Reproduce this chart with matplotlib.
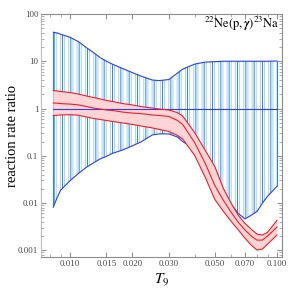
import numpy as np
import matplotlib
matplotlib.use('Agg')
import matplotlib.pyplot as plt
from matplotlib.ticker import FixedLocator, FixedFormatter, LogLocator, NullFormatter

plt.rcParams['font.family'] = ['Liberation Serif', 'DejaVu Serif']
plt.rcParams['mathtext.fontset'] = 'stix'
plt.rcParams['hatch.linewidth'] = 0.7

# temperature grid (T9)
t9 = [0.0083, 0.0087, 0.009, 0.010, 0.011, 0.012, 0.013, 0.014, 0.015, 0.016, 0.018,
      0.020, 0.022, 0.025, 0.027, 0.030, 0.033, 0.035, 0.040, 0.045, 0.050,
      0.055, 0.060, 0.065, 0.070, 0.075, 0.080, 0.085, 0.090, 0.100]

# blue band (ratio limits of the other rate)
blue_hi = [41.1, 39.5, 37.3, 32.2, 25.9, 19.4, 15.2, 11.9, 10.0, 8.7, 7.0,
           5.75, 4.85, 4.0, 3.9, 4.1, 5.6, 6.8, 8.7, 9.6, 9.8,
           10.0, 10.0, 10.0, 10.0, 10.0, 10.0, 10.0, 10.0, 10.1]
blue_lo = [0.0082, 0.0135, 0.0186, 0.0296, 0.0425, 0.057, 0.071, 0.086, 0.097, 0.112, 0.133,
           0.162, 0.196, 0.276, 0.29, 0.29, 0.25, 0.2, 0.137, 0.107, 0.057,
           0.0195, 0.0094, 0.006, 0.0046, 0.0055, 0.0066, 0.0099, 0.0139, 0.0226]

# red band (this work)
red_hi = [2.4, 2.35, 2.29, 2.18, 2.02, 1.84, 1.71, 1.59, 1.48, 1.41, 1.27,
          1.19, 1.1, 1.02, 0.976, 0.93, 0.82, 0.695, 0.31, 0.13, 0.06,
          0.0205, 0.0099, 0.0055, 0.0037, 0.0028, 0.0022, 0.0021, 0.0024, 0.0043]
red_mid = [1.31, 1.29, 1.27, 1.24, 1.19, 1.10, 1.02, 0.976, 0.93, 0.907, 0.84,
           0.80, 0.78, 0.73, 0.71, 0.68, 0.56, 0.46, 0.19, 0.069, 0.0238,
           0.0115, 0.0064, 0.0039, 0.0027, 0.002, 0.00164, 0.00164, 0.002, 0.0031]
red_lo = [0.71, 0.72, 0.73, 0.74, 0.72, 0.66, 0.615, 0.586, 0.558, 0.532, 0.494,
          0.46, 0.427, 0.388, 0.36, 0.327, 0.27, 0.227, 0.102, 0.035, 0.012,
          0.0067, 0.0041, 0.0027, 0.0018, 0.00129, 0.00101, 0.00106, 0.00135, 0.0021]

xticks = [0.010, 0.015, 0.020, 0.030, 0.050, 0.070, 0.100]
xlabels = ['0.010', '0.015', '0.020', '0.030', '0.050', '0.070', '0.100']
yticks = [0.001, 0.01, 0.1, 1, 10, 100]
ylabels = ['0.001', '0.01', '0.1', '1', '10', '100']

blue_line = '#2a3ff0'
hatch_dark = '#2a86dc'
hatch_light = '#a9d2f2'
red_line = '#ec2027'
pink = '#ffd4d6'
frame = '#8c8c8c'

fig = plt.figure(figsize=(2.88, 2.89), dpi=100)
ax = fig.add_axes([41 / 288, 1 - 257 / 289, 241 / 288, 243 / 289])
ax.set_xscale('log')
ax.set_yscale('log')

# vertical-line filling between the blue limits
ax.fill_between(t9, blue_lo, blue_hi, facecolor='none', edgecolor=hatch_light,
                hatch='||||', linewidth=0, zorder=1)
ax.fill_between(t9, blue_lo, blue_hi, facecolor='none', edgecolor=hatch_dark,
                hatch='||', linewidth=0, zorder=1.1)
ax.vlines([t9[0], t9[-1]], [blue_lo[0], blue_lo[-1]], [blue_hi[0], blue_hi[-1]],
          color=hatch_dark, lw=0.8, zorder=1.2)
ax.plot(t9, blue_hi, color=blue_line, lw=0.8, zorder=2)
ax.plot(t9, blue_lo, color=blue_line, lw=0.8, zorder=2)

ax.fill_between(t9, red_lo, red_hi, facecolor=pink, linewidth=0, zorder=3)
ax.plot([t9[0], t9[-1]], [1, 1], color=blue_line, lw=0.8, zorder=4)
for curve in (red_hi, red_mid, red_lo):
    ax.plot(t9, curve, color=red_line, lw=0.8, zorder=5)

ax.set_xlim(0.00724, 0.1057)
ax.set_ylim(0.00072, 100)

ax.xaxis.set_major_locator(FixedLocator(xticks))
ax.xaxis.set_major_formatter(FixedFormatter(xlabels))
ax.xaxis.set_minor_locator(LogLocator(base=10, subs=np.arange(2, 10) * 1.0))
ax.xaxis.set_minor_formatter(NullFormatter())
ax.yaxis.set_major_locator(FixedLocator(yticks))
ax.yaxis.set_major_formatter(FixedFormatter(ylabels))
ax.yaxis.set_minor_locator(LogLocator(base=10, subs=np.arange(2, 10) * 1.0))
ax.yaxis.set_minor_formatter(NullFormatter())

ax.tick_params(which='both', direction='in', top=True, right=True,
               color=frame, labelsize=6.3, labelcolor='#444444', pad=2)
ax.tick_params(which='major', length=3.5, width=0.7)
ax.tick_params(which='minor', length=2, width=0.5)
for s in ax.spines.values():
    s.set_color(frame)
    s.set_linewidth(0.8)
ax.spines['left'].set_color('#bbbbbb')

ax.set_ylabel('reaction rate ratio', fontsize=10.5)
ax.yaxis.set_label_coords(-0.09, 0.5)
ax.set_xlabel(r'$T_9$', fontsize=11)
ax.xaxis.set_label_coords(0.5, -0.06)
ax.text(0.99, 0.995, r'$^{22}\mathrm{Ne(p,}\boldsymbol{\gamma}\mathrm{)}^{23}\mathrm{Na}$',
        transform=ax.transAxes, ha='right', va='top', fontsize=9)

fig.savefig('out.png', dpi=100)
